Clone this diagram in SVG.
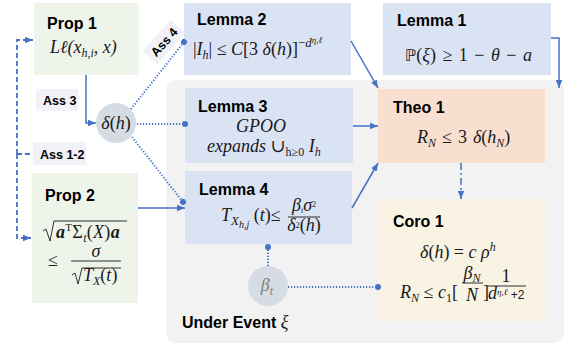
<svg xmlns="http://www.w3.org/2000/svg" width="571" height="348" viewBox="0 0 571 348">
<defs>
<style>
.t{font-family:"Liberation Sans",Arial,sans-serif;font-weight:bold;font-size:16px;fill:#000}
.m{font-family:"Liberation Serif","DejaVu Serif",serif;font-style:italic;font-size:18px;fill:#1a1a1a}
.n{font-style:normal}
.lab{font-family:"Liberation Sans",Arial,sans-serif;font-weight:bold;font-size:12.5px;fill:#000}
.solid{stroke:#4472c4;stroke-width:1.5;fill:none}
.dot{stroke:#4472c4;stroke-width:2;stroke-dasharray:1.2 1.8;fill:none}
.dash{stroke:#4472c4;stroke-width:1.8;stroke-dasharray:5 3;fill:none}
.dashdot{stroke:#4472c4;stroke-width:1.5;stroke-dasharray:7 3 2 3;fill:none}
.bar{stroke:#1a1a1a;stroke-width:0.9;fill:none}
.lemma{fill:#dae3f3}
.prop{fill:#eff4ea}
.circ{fill:#d6dce4}
.lbl{fill:#f3f1f8}
</style>
<marker id="arr" markerUnits="userSpaceOnUse" markerWidth="8" markerHeight="8" viewBox="0 0 8 8" refX="8" refY="4" orient="auto">
<path d="M0,0.8 L8,4 L0,7.2 Z" fill="#4472c4"/>
</marker>
<marker id="dt" markerUnits="userSpaceOnUse" markerWidth="7" markerHeight="7" viewBox="0 0 7 7" refX="3.5" refY="3.5" orient="auto">
<circle cx="3.5" cy="3.5" r="3" fill="#4472c4"/>
</marker>
</defs>
<rect width="571" height="348" fill="#fff"/>
<g id="panel">
<rect x="166" y="80" width="398" height="263" rx="10" fill="#f2f2f2"/>
<text class="t" x="182" y="328">Under Event <tspan class="m" font-weight="normal">ξ</tspan></text>
</g>
<g id="prop1">
<rect class="prop" x="34" y="3" width="105" height="72"/>
<text class="t" x="47" y="29">Prop 1</text>
<text class="m" x="50" y="53">Lℓ(x<tspan font-size="12" dy="4">h,i</tspan><tspan dy="-4">, x)</tspan></text>
</g>
<g id="prop2">
<rect class="prop" x="32" y="173" width="106" height="130"/>
<text class="t" x="45" y="201">Prop 2</text>
<path class="bar" d="M43,231 L46,229 L50,241 L54,221 H127"/>
<text class="m" x="56" y="238" letter-spacing="0.3"><tspan font-weight="bold">a</tspan><tspan font-size="11" dy="-7" class="n">T</tspan><tspan dy="7" class="n">Σ</tspan><tspan font-size="12" dy="4">t</tspan><tspan dy="-4" class="n">(</tspan>X<tspan class="n">)</tspan><tspan font-weight="bold">a</tspan></text>
<text class="m n" x="48" y="266">≤</text>
<text class="m" x="96" y="257" text-anchor="middle" font-size="16">σ</text>
<line class="bar" x1="71" y1="261" x2="121" y2="261"/>
<path class="bar" d="M72,275 L75,273 L78,284 L82,268 H121"/>
<text class="m" x="83" y="281">T<tspan font-size="12" dy="4">X</tspan><tspan dy="-4" class="n">(</tspan>t<tspan class="n">)</tspan></text>
</g>
<g id="lemma2">
<rect class="lemma" x="184" y="3" width="167" height="72"/>
<text class="t" x="197" y="25">Lemma 2</text>
<text class="m" x="193" y="55"><tspan class="n">|</tspan>I<tspan font-size="12" dy="4">h</tspan><tspan dy="-4" class="n">| ≤ </tspan>C<tspan class="n">[3 </tspan>δ<tspan class="n">(</tspan>h<tspan class="n">)]</tspan><tspan font-size="13" dy="-8" class="n">−</tspan><tspan font-size="13">d</tspan><tspan font-size="9" dy="-4">η,ℓ</tspan></text>
</g>
<g id="lemma1">
<rect class="lemma" x="383" y="3" width="168" height="72"/>
<text class="t" x="397" y="26">Lemma 1</text>
<text class="m" x="405" y="61" word-spacing="2"><tspan class="n" font-family="DejaVu Sans" font-size="16">ℙ</tspan><tspan class="n">(</tspan>ξ<tspan class="n">) ≥ 1 −   </tspan>θ<tspan class="n">  − </tspan>a</text>
</g>
<g id="lemma3">
<rect class="lemma" x="185" y="88" width="168" height="75"/>
<text class="t" x="198" y="112">Lemma 3</text>
<text class="m" x="261" y="132" text-anchor="middle">GPOO</text>
<text class="m" x="207" y="152">expands <tspan class="n">∪</tspan><tspan font-size="12" dy="4" class="n">h≥0</tspan><tspan dy="-4"> I</tspan><tspan font-size="12" dy="4">h</tspan></text>
</g>
<g id="lemma4">
<rect class="lemma" x="185" y="171" width="167" height="73"/>
<text class="t" x="199" y="195">Lemma 4</text>
<text class="m" x="221" y="221">T<tspan font-size="13" dy="4">X</tspan><tspan font-size="10" dy="3">h,j</tspan><tspan dy="-7" class="n"> (</tspan>t<tspan class="n">)≤</tspan></text>
<text class="m" x="304" y="211" text-anchor="middle" font-size="12">β<tspan font-size="8" dy="2">t</tspan><tspan dy="-2">σ</tspan><tspan font-size="8" dy="-4" class="n">2</tspan></text>
<line class="bar" x1="288" y1="217" x2="320" y2="217"/>
<text class="m" x="304" y="231" text-anchor="middle" font-size="12">δ<tspan class="n" font-size="8" dy="-3">2</tspan><tspan class="n" dy="3">(</tspan>h<tspan class="n">)</tspan></text>
</g>
<g id="theo1">
<rect x="378" y="89" width="167" height="74" fill="#f8dfcf"/>
<text class="t" x="393" y="113">Theo 1</text>
<text class="m" x="417" y="143" word-spacing="1.5">R<tspan font-size="12" dy="4">N</tspan><tspan dy="-4" class="n"> ≤ 3 </tspan>δ<tspan class="n">(</tspan>h<tspan font-size="12" dy="4">N</tspan><tspan dy="-4" class="n">)</tspan></text>
</g>
<g id="coro1">
<rect x="378" y="199" width="167" height="122" fill="#f8f3e3"/>
<text class="t" x="393" y="227">Coro 1</text>
<text class="m" x="420" y="258">δ<tspan class="n">(</tspan>h<tspan class="n">) = </tspan>c ρ<tspan font-size="12" dy="-7">h</tspan></text>
<text class="m" x="400" y="298">R<tspan font-size="12" dy="4">N</tspan><tspan dy="-4" class="n"> ≤ </tspan>c<tspan font-size="12" dy="4" class="n">1</tspan><tspan dy="-4" class="n">[</tspan></text>
<text class="m" x="472" y="279" text-anchor="middle">β<tspan font-size="12" dy="3">N</tspan></text>
<line class="bar" x1="462" y1="283" x2="483" y2="283"/>
<text class="m" x="472" y="301" text-anchor="middle">N</text>
<text class="m n" x="483" y="298">]</text>
<text class="m n" x="506" y="282" text-anchor="middle" font-size="12">1</text>
<line class="bar" x1="488" y1="286" x2="526" y2="286"/>
<text class="m" x="488" y="299" font-size="13">d<tspan font-size="9" dy="-4">η,ℓ</tspan><tspan class="n" font-family="Liberation Sans" font-size="12" dy="4"> +2</tspan></text>
</g>
<g id="delta">
<circle class="circ" cx="116" cy="123" r="20"/>
<text class="m" x="116" y="129" text-anchor="middle">δ<tspan class="n">(</tspan>h<tspan class="n">)</tspan></text>
</g>
<g id="beta">
<circle class="circ" cx="268" cy="286" r="20"/>
<text class="m" x="267" y="291" text-anchor="middle" style="fill:#7f7f7f">β<tspan font-size="12" dy="4">t</tspan></text>
</g>
<g id="labels">
<rect class="lbl" x="36" y="89" width="42" height="22"/>
<text class="lab" x="43" y="105">Ass 3</text>
<rect class="lbl" x="33" y="142" width="53" height="23"/>
<text class="lab" x="40" y="159">Ass 1-2</text>
<g transform="translate(164,42) rotate(-48)">
<rect class="lbl" x="-21" y="-10" width="42" height="20"/>
<text class="lab" x="0" y="4.5" text-anchor="middle">Ass 4</text>
</g>
</g>
<g id="connectors">
<path class="solid" d="M86,75 V123 H96" marker-end="url(#arr)"/>
<path class="dash" d="M17,154 V40 H33" marker-end="url(#arr)"/>
<path class="dash" d="M17,154 V238 H31" marker-end="url(#arr)"/>
<path class="dash" d="M17,154 H33"/>
<path class="dot" d="M131,109 L184,42" marker-end="url(#dt)"/>
<path class="dot" d="M137,124 H185" marker-end="url(#dt)"/>
<path class="dot" d="M132,137 L183,202" marker-end="url(#dt)"/>
<path class="solid" d="M138,208 H185" marker-end="url(#arr)"/>
<path class="solid" d="M351,41 L378,88" marker-end="url(#arr)"/>
<path class="solid" d="M353,126 H378" marker-end="url(#arr)"/>
<path class="solid" d="M352,208 L378,163" marker-end="url(#arr)"/>
<path class="solid" d="M551,38 H559 V88" marker-end="url(#arr)"/>
<path class="dashdot" d="M461,163 V199" marker-end="url(#arr)"/>
<path class="dot" d="M268,266 V247" marker-end="url(#dt)"/>
<path class="dot" d="M288,287 H378" marker-end="url(#dt)"/>
</g>
</svg>
